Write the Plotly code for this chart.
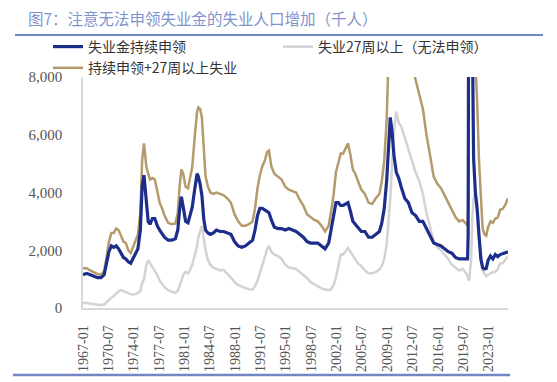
import plotly.graph_objects as go

# ---- data (thousands) ----
dates = [
    "1967-01","1967-07","1968-01","1968-07","1969-01","1969-07","1969-12","1970-04","1970-08","1970-12",
    "1971-04","1971-08","1971-12","1972-04","1972-08","1972-12","1973-04","1973-08","1973-12","1974-04",
    "1974-08","1974-12","1975-03","1975-06","1975-08","1975-10","1976-01","1976-04","1976-08","1976-12",
    "1977-04","1977-08","1977-12","1978-04","1978-10","1979-04","1979-10","1980-02","1980-05","1980-08",
    "1980-11","1981-03","1981-07","1981-10","1982-02","1982-06","1982-10","1982-12","1983-03","1983-06",
    "1983-09","1983-12","1984-04","1984-08","1985-01","1985-06","1985-12","1986-06","1986-12","1987-06",
    "1987-12","1988-06","1988-12","1989-06","1989-12","1990-06","1990-10","1991-02","1991-06","1991-10",
    "1992-02","1992-06","1992-09","1993-01","1993-06","1993-12","1994-06","1994-12","1995-06","1995-12",
    "1996-06","1996-12","1997-06","1997-12","1998-06","1998-12","1999-06","1999-12","2000-06","2000-12",
    "2001-04","2001-08","2001-12","2002-04","2002-08","2002-12","2003-04","2003-08","2003-12","2004-04",
    "2004-08","2004-12","2005-06","2005-12","2006-06","2006-12","2007-06","2007-12","2008-04","2008-08",
    "2008-12","2009-03","2009-06","2009-09","2009-12","2010-04","2010-08","2010-12","2011-06","2011-12",
    "2012-06","2012-12","2013-06","2013-12","2014-06","2014-12","2015-06","2015-12","2016-06","2016-12",
    "2017-06","2017-12","2018-06","2018-12","2019-06","2019-12","2020-02","2020-03","2020-04","2020-05",
    "2020-06","2020-08","2020-10","2020-12","2021-03","2021-06","2021-09","2021-12","2022-03","2022-06",
    "2022-09","2022-12","2023-04","2023-08","2023-12","2024-04","2024-08","2024-12","2025-04","2025-09",
]

continued_claims = [
    1150,1200,1150,1100,1050,1050,1150,1550,1950,2150,
    2100,2150,2050,1900,1750,1700,1600,1550,1700,1850,
    2050,2700,4200,4600,4100,3500,3000,2900,3100,3100,
    2850,2700,2550,2450,2350,2350,2400,2700,3400,3850,
    3500,3000,2950,3200,3500,4100,4650,4550,4300,3900,
    3100,2700,2600,2550,2600,2700,2650,2650,2600,2550,
    2300,2150,2100,2150,2250,2350,2700,3200,3450,3450,
    3400,3350,3300,3050,2800,2750,2750,2700,2750,2700,
    2650,2550,2450,2300,2250,2250,2250,2150,2050,2250,
    2700,3100,3650,3650,3550,3550,3600,3650,3350,3000,
    2900,2800,2650,2650,2450,2450,2550,2650,2950,3450,
    4400,5700,6600,6100,5300,4700,4500,4200,3800,3650,
    3300,3200,3000,3000,2750,2450,2250,2200,2150,2050,
    1950,1900,1750,1700,1700,1700,1700,2500,16000,22000,
    18000,13500,8000,5200,4000,3400,2500,1700,1400,1350,
    1370,1650,1800,1700,1850,1780,1850,1880,1900,1950,
]

long_term_unemployed = [
    170,180,150,130,110,100,120,200,300,350,
    420,520,580,620,580,540,500,480,470,480,
    520,600,850,1000,1250,1500,1650,1550,1450,1330,
    1150,950,850,720,620,560,520,600,750,950,
    1150,1250,1200,1300,1500,1800,2150,2450,2700,2850,
    2400,2000,1650,1500,1400,1350,1300,1320,1200,1050,
    900,800,740,700,650,640,750,950,1200,1450,
    1750,2050,2150,1950,1850,1800,1700,1500,1400,1380,
    1350,1250,1150,1040,900,820,730,680,640,620,
    650,780,1050,1450,1850,1850,1950,2080,1950,1800,
    1700,1550,1450,1300,1200,1200,1250,1330,1450,1700,
    2200,3000,3800,5000,6100,6800,6400,6300,5900,5500,
    5100,4700,4400,3950,3300,2800,2300,2100,2000,1850,
    1700,1500,1400,1300,1350,1200,1100,1000,950,1000,
    1400,1700,3200,3800,4000,3700,2600,2000,1300,1200,
    1100,1150,1200,1250,1250,1350,1550,1550,1650,1800,
]

claims_plus_long_term = [
    1380,1380,1300,1230,1170,1160,1280,1750,2300,2600,
    2600,2750,2700,2500,2300,2250,2000,1900,2100,2300,
    2550,3300,5100,5700,5300,4900,4650,4450,4500,4450,
    4050,3650,3450,3200,2950,2900,2920,3300,4200,4800,
    4650,4200,4150,4500,4900,5900,6800,6950,6900,6600,
    5400,4550,4200,4000,3950,4000,3950,3900,3800,3650,
    3250,3000,2850,2850,2900,3000,3450,4150,4600,4900,
    5100,5400,5450,4900,4650,4550,4450,4200,4100,4050,
    4000,3750,3550,3250,3150,3050,3000,2850,2650,2850,
    3350,3900,4700,5050,5350,5350,5500,5700,5300,4800,
    4650,4400,4100,3950,3650,3600,3800,3950,4400,5100,
    6500,8600,10300,11000,11300,11400,10900,10500,9700,9100,
    8400,7900,7400,6900,6000,5250,4550,4300,4150,3900,
    3650,3400,3150,3000,3050,2900,2850,3500,17000,23000,
    19400,15200,11300,9000,8500,7100,5100,3700,2750,2550,
    2500,2800,3000,2950,3100,3130,3400,3430,3550,3800,
]

y_ticks = [0, 2000, 4000, 6000, 8000]
y_ticktext = ["0", "2,000", "4,000", "6,000", "8,000"]
x_ticks = ["1967-01","1970-07","1974-01","1977-07","1981-01","1984-07","1988-01","1991-07",
           "1995-01","1998-07","2002-01","2005-07","2009-01","2012-07","2016-01","2019-07","2023-01"]

title = "图7：注意无法申领失业金的失业人口增加（千人）"
names = ["失业金持续申领", "失业27周以上（无法申领）", "持续申领+27周以上失业"]

BLUE = "#1C2D8A"
GOLD = "#B59A6C"
GRAY = "#D3D3D3"
ACCENT = "#7186C2"
SERIF = "Liberation Serif, Times New Roman, DejaVu Serif, serif"

x_dates = [d + "-01" for d in dates]

fig = go.Figure()
fig.add_trace(go.Scatter(x=x_dates, y=long_term_unemployed, mode="lines", name=names[1],
                         line=dict(color=GRAY, width=2.5), legendrank=2))
fig.add_trace(go.Scatter(x=x_dates, y=claims_plus_long_term, mode="lines", name=names[2],
                         line=dict(color=GOLD, width=2.5), legendrank=3))
fig.add_trace(go.Scatter(x=x_dates, y=continued_claims, mode="lines", name=names[0],
                         line=dict(color=BLUE, width=3.2), legendrank=1))

PL, PR, PT, PB = 83, 508, 77, 308
W, H = 557, 382
pw, ph = PR - PL, PB - PT
def px(x):
    return (x - PL) / pw
def py(y):
    return (PB - y) / ph

fig.update_layout(
    width=W, height=H,
    margin=dict(l=PL, r=W - PR, t=PT, b=H - PB, autoexpand=False),
    paper_bgcolor="white", plot_bgcolor="white",
    showlegend=True,
    legend=dict(orientation="h", x=px(48), xanchor="left", y=py(31), yanchor="top",
                entrywidth=185, entrywidthmode="pixels",
                font=dict(family="Noto Sans CJK SC", size=14, color="#333333"),
                bgcolor="rgba(0,0,0,0)", tracegroupgap=0, itemwidth=30),
    xaxis=dict(type="date", range=["1967-01-01", "2025-09-01"],
               tickvals=[t + "-01" for t in x_ticks], ticktext=x_ticks,
               tickangle=-90, showgrid=False, zeroline=False,
               showline=True, linecolor="#D9D9D9", linewidth=1.5,
               ticks="", ticklabelstandoff=10,
               tickfont=dict(family=SERIF, size=14, color="#555555")),
    yaxis=dict(range=[0, 8000], tickvals=y_ticks, ticktext=y_ticktext,
               showgrid=False, zeroline=False, showline=True, linecolor="#D9D9D9", linewidth=1.5,
               ticks="", ticklabelstandoff=16,
               tickfont=dict(family=SERIF, size=15, color="#555555")),
    annotations=[dict(text=title, x=px(26), y=py(18), xref="paper", yref="paper",
                      xanchor="left", yanchor="middle", showarrow=False,
                      font=dict(family="Noto Sans CJK SC", size=15.5, color="#7F93CC"))],
    shapes=[
        dict(type="line", xref="paper", yref="paper", x0=px(15), x1=px(543), y0=py(35), y1=py(35),
             line=dict(color=ACCENT, width=2)),
        dict(type="line", xref="paper", yref="paper", x0=px(13), x1=px(510), y0=py(375), y1=py(375),
             line=dict(color=ACCENT, width=2.5)),
    ],
)

fig.write_html("out.html",
               config={"displayModeBar": False},
               post_script="document.body.style.margin='0';document.body.style.padding='0';")
